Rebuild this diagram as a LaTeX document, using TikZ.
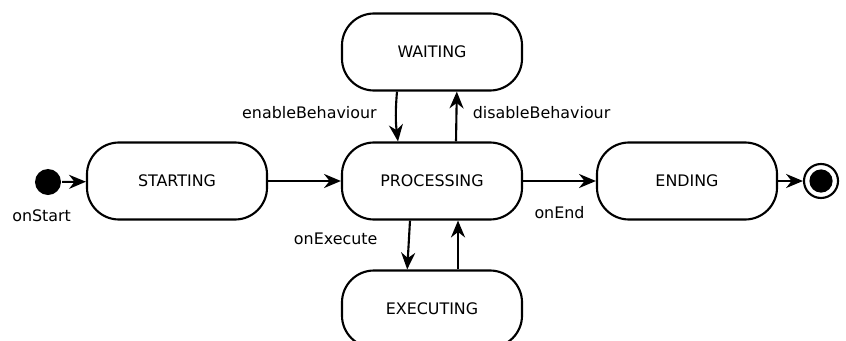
\documentclass[tikz,border=0pt]{standalone}
\usepackage{fontspec}
\setmainfont{DejaVu Sans}
\usetikzlibrary{arrows.meta,positioning}

\begin{document}
\begin{tikzpicture}[x=0.025cm, y=-0.025cm, line width=1.5pt,
    >={Stealth[length=12pt, width=10pt]},
    font=\fontsize{11.3}{13}\selectfont,
    statebox/.style={draw, rectangle, rounded corners=0.8cm, minimum width=4.5cm, minimum height=1.925cm},
    lbl/.style={inner sep=1pt}]
    \clip (0,0) rectangle (846,341);

    % Start and end markers
    \node[circle, fill, inner sep=0pt, minimum size=0.65cm] (init) at (48,182) {};
    \node[circle, draw, inner sep=0pt, minimum size=0.85cm] (final) at (821,181) {};
    \node[circle, fill, inner sep=0pt, minimum size=0.58cm] (finaldot) at (final) {};

    % States
    \node[statebox] (starting) at (177,181) {STARTING};
    \node[statebox] (processing) at (432,181) {PROCESSING};
    \node[statebox] (ending) at (687,181) {ENDING};
    \node[statebox] (waiting) at (432,52) {WAITING};
    \node[statebox] (executing) at (432,309) {EXECUTING};

    % Main flow
    \draw[->] (init) -- (starting);
    \node[lbl, below=0.28cm of init, xshift=-0.16cm] (onstart) {onStart};
    \draw[->] (starting) -- (processing);
    \draw[->] (processing) -- node[lbl, below=0.58cm] {onEnd} (ending);
    \draw[->] (ending) -- (final);

    % Waiting loop
    \draw[->] ([xshift=-0.875cm]waiting.south) to[bend right=6]
        node[lbl, left=0.42cm, yshift=0.1cm] {enableBehaviour} ([xshift=-0.85cm]processing.north);
    \draw[->] ([xshift=0.6cm]processing.north) --
        node[lbl, right=0.35cm, yshift=0.1cm] {disableBehaviour} ([xshift=0.62cm]waiting.south);

    % Executing loop
    \draw[->] ([xshift=-0.55cm]processing.south) --
        node[lbl, left=0.72cm, yshift=0.15cm] {onExecute} ([xshift=-0.62cm]executing.north);
    \draw[->] ([xshift=0.65cm]executing.north) -- ([xshift=0.65cm]processing.south);
\end{tikzpicture}
\end{document}
